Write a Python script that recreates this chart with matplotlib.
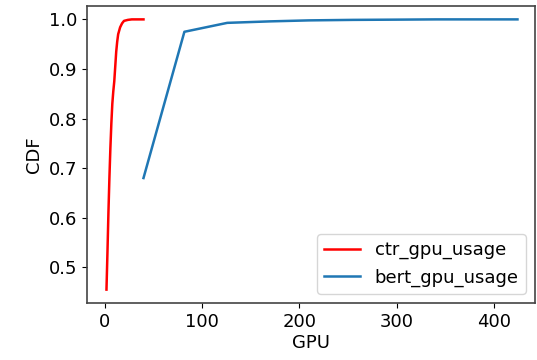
import matplotlib
matplotlib.use("Agg")
import matplotlib.pyplot as plt

# CDF of per-job GPU usage
ctr_gpu = [2, 3, 4, 5, 6, 7, 8, 9, 10, 11, 12, 13, 14, 16, 18, 20, 24, 28, 34, 40]
ctr_cdf = [0.455, 0.53, 0.61, 0.68, 0.74, 0.79, 0.83, 0.855, 0.875, 0.905, 0.935,
           0.955, 0.97, 0.984, 0.992, 0.997, 0.999, 1.0, 1.0, 1.0]

bert_gpu = [40, 82, 126, 170, 210, 255, 300, 340, 380, 424]
bert_cdf = [0.68, 0.975, 0.993, 0.996, 0.998, 0.999, 0.9995, 1.0, 1.0, 1.0]

plt.rcParams['font.size'] = 13

fig = plt.figure(figsize=(5.37, 3.6), dpi=100)
ax = fig.add_axes([87/537, 1-303/360, (535-87)/537, (303-6)/360])
ax.plot(ctr_gpu, ctr_cdf, color='red', lw=1.8, label='ctr_gpu_usage')
ax.plot(bert_gpu, bert_cdf, color='tab:blue', lw=1.8, label='bert_gpu_usage')
ax.set_xlim(-18, 442)
ax.set_ylim(0.428, 1.027)
ax.set_xticks([0, 100, 200, 300, 400])
ax.set_yticks([0.5, 0.6, 0.7, 0.8, 0.9, 1.0])
for s in ax.spines.values():
    s.set_color('#444444')
    s.set_linewidth(1.2)
ax.set_xlabel('GPU', labelpad=2)
ax.set_ylabel('CDF')
ax.legend(loc='lower right')
fig.savefig('out.png', dpi=100)
